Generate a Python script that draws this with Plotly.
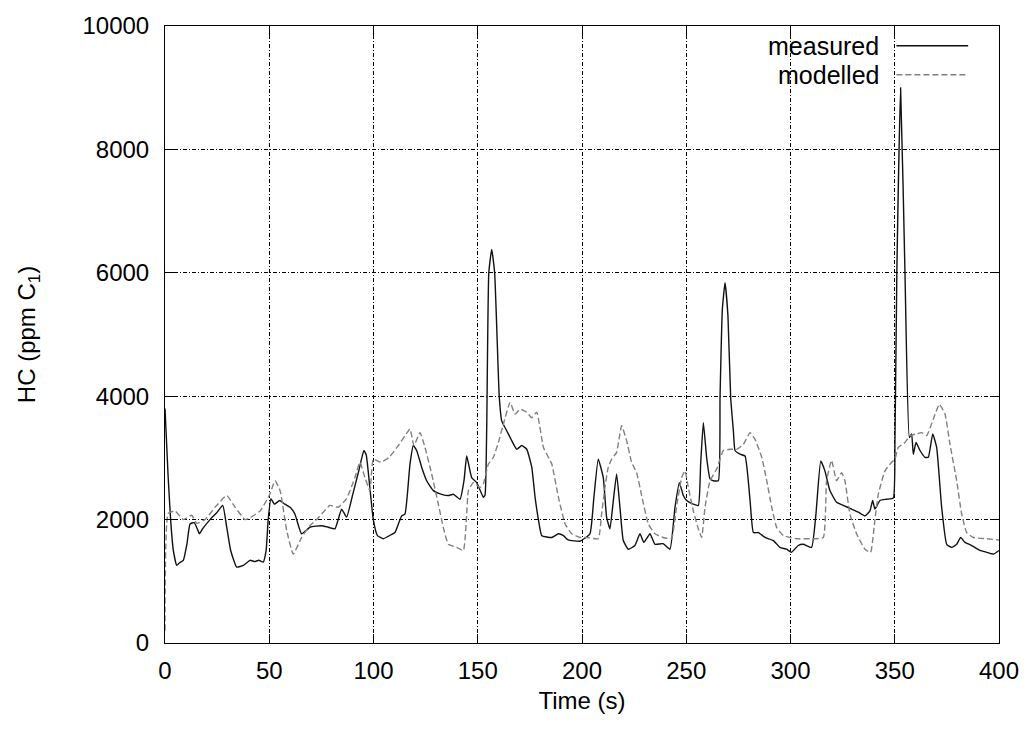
import plotly.graph_objects as go

# ---- data ----
t_measured = [0, 1.5, 2.7, 4, 5.6, 7, 8.8, 10.5, 12, 14, 15.5, 16.5, 18, 21.6, 24.8, 27.7,
              29.5, 31.5, 34.4, 37.6, 40.8, 43, 45, 47.1, 48.5, 49.5, 50.8, 52.5, 55, 57.5,
              60, 62.3, 65.5, 69.7, 75.1, 78, 81.5, 84.7, 87.1, 90, 93, 95.4, 96.5, 98.3,
              99.9, 101.9, 104.7, 108.7, 110.3, 113.5, 115.1, 117.5, 119.1, 120.7, 123.1,
              125.5, 128.7, 132.7, 135.9, 138.3, 141.5, 143.4, 144.7, 147.1, 149.5, 152.7,
              153.5, 154.3, 155.3, 156.7, 158.1, 160.3, 161.5, 163.9, 166.3, 168.7, 171.1,
              173.5, 175.9, 177.5, 179.1, 180.7, 185.5, 188.7, 191.1, 193.4, 199, 203.8,
              205.7, 207.8, 210.2, 211.8, 213.4, 215, 216.6, 218.2, 219.8, 222.2, 225.4,
              227.8, 229.7, 232.6, 235, 238.9, 242.2, 244.6, 246.7, 248.6, 250.2, 253.4,
              255.8, 256.9, 258.2, 259.8, 261.4, 263, 265.4, 266.2, 267.3, 268.6, 270,
              271.3, 272.6, 273.4, 275.8, 278.2, 280.6, 282.2, 284.6, 287.8, 291.8, 294.9,
              298.1, 300.5, 303.7, 306.1, 310.1, 312.2, 314.5, 316.5, 318.9, 322.1, 325.3,
              329.3, 332.5, 335.7, 338.1, 339.4, 340.5, 342.9, 346.1, 349.3, 350.1, 351,
              352.8, 354.9, 357, 358.1, 358.9, 360.2, 362.1, 364.5, 366.1, 368.2, 370.1,
              372.5, 374.9, 377.3, 379.7, 381.6, 383.7, 386.9, 390.9, 394.1, 397.3, 400]
hc_measured = [3800, 2700, 2000, 1500, 1260, 1300, 1340, 1600, 1930, 1950, 1850, 1770, 1850,
               2000, 2110, 2230, 1900, 1500, 1230, 1260, 1340, 1320, 1340, 1310, 1500, 2000,
               2340, 2250, 2310, 2250, 2200, 2090, 1770, 1880, 1900, 1880, 1850, 2170, 2040,
               2400, 2800, 3120, 3050, 2500, 2000, 1740, 1690, 1760, 1790, 2060, 2090, 2900,
               3200, 3120, 2850, 2630, 2470, 2410, 2390, 2410, 2330, 2630, 3030, 2680, 2600,
               2360, 2400, 3500, 6000, 6380, 6000, 4000, 3600, 3440, 3280, 3140, 3200, 3140,
               2850, 2360, 2000, 1740, 1710, 1770, 1740, 1670, 1650, 1770, 2360, 2980, 2680,
               2040, 1850, 2300, 2740, 2200, 1660, 1520, 1580, 1770, 1630, 1770, 1600, 1610,
               1520, 2200, 2600, 2390, 2310, 2250, 2230, 2900, 3570, 3000, 2660, 2630, 2630,
               3980, 5400, 5840, 5300, 3980, 3440, 3120, 3060, 3030, 2310, 1790, 1790, 1710,
               1660, 1550, 1520, 1470, 1580, 1600, 1550, 2090, 2950, 2790, 2470, 2280, 2230,
               2170, 2120, 2060, 2140, 2310, 2170, 2310, 2330, 2350, 3300, 6000, 9000, 6000,
               3330, 3390, 3060, 3250, 3120, 3010, 3010, 3390, 3170, 2200, 1600, 1550, 1600,
               1710, 1630, 1580, 1500, 1470, 1440, 1500]

t_modelled = [0, 1.5, 4.8, 8.8, 12.8, 15.2, 19.2, 24, 29.6, 33.6, 38.4, 40.8, 45.6, 50, 52.8,
              55.2, 58.4, 61.5, 65.5, 69.5, 72.7, 75.9, 79.1, 83.1, 87.1, 91.1, 93.5, 95.9,
              98.3, 99.9, 103.6, 107.5, 111.9, 115.1, 117.5, 119.4, 122.3, 124.7, 127.9,
              131.1, 133.5, 135.9, 139.9, 143.1, 144.7, 145.5, 147.9, 151.1, 152.7, 155.1,
              157.5, 159.9, 162.3, 165.5, 167.9, 170.3, 173.5, 175.9, 178.3, 181.5, 185.5,
              188.7, 191.9, 195.1, 199, 202.3, 207.8, 209.4, 211, 212.6, 214.2, 216.6, 219,
              221.4, 223.8, 226.2, 228.6, 231.8, 235, 238.9, 242.9, 245.3, 247.8, 249.4, 251,
              253.4, 255.8, 257.4, 259, 261.4, 264.6, 267.8, 271, 274.2, 277.4, 280.6, 283,
              286.2, 288.6, 291, 293.4, 296.6, 299.8, 302.9, 309.3, 315.7, 317.3, 319.7,
              322.1, 324.5, 326.1, 328.5, 331.7, 335.7, 338.4, 340.5, 342.1, 345.3, 348.5,
              350.1, 351.7, 354.9, 357.3, 360.5, 362.9, 365.3, 368.5, 371.4, 374.1, 376.5,
              379.7, 382.1, 384.5, 387.7, 394.1, 400]
hc_modelled = [200, 2100, 2140, 2000, 2070, 1940, 2000, 2200, 2390, 2200, 2000, 2030, 2140,
               2390, 2630, 2470, 1820, 1440, 1710, 1900, 2000, 2120, 2230, 2200, 2340, 2680,
               2930, 2680, 2470, 2980, 2930, 3010, 3200, 3360, 3470, 3200, 3410, 3170, 2740,
               2250, 1870, 1600, 1550, 1500, 2090, 2470, 2600, 2520, 2580, 2900, 3010, 3250,
               3550, 3900, 3710, 3790, 3740, 3650, 3740, 3170, 2900, 2360, 1930, 1770, 1710,
               1710, 1690, 2090, 2520, 2850, 2980, 3090, 3520, 3280, 2930, 2760, 2390, 1930,
               1770, 1710, 1690, 2200, 2680, 2790, 2520, 2140, 1850, 1710, 2200, 2630, 2820,
               3120, 3140, 3140, 3220, 3410, 3300, 3010, 2630, 2200, 1870, 1740, 1710, 1690,
               1690, 1710, 2630, 2960, 2630, 2760, 2630, 2090, 1770, 1520, 1470, 2000, 2410,
               2790, 2930, 2980, 3170, 3250, 3360, 3390, 3410, 3360, 3630, 3870, 3710, 3220,
               2630, 2090, 1790, 1710, 1690, 1670]

series_names = ["measured", "modelled"]
x_ticks = [0, 50, 100, 150, 200, 250, 300, 350, 400]
y_ticks = [0, 2000, 4000, 6000, 8000, 10000]

FONT = "Liberation Sans, Arial, Helvetica, sans-serif"
SOLID_COLOR = "#111111"
DASH_COLOR = "#808080"

fig = go.Figure()
fig.add_trace(go.Scatter(x=t_measured, y=hc_measured, mode="lines", name=series_names[0],
                         line=dict(color=SOLID_COLOR, width=1.4, shape="spline", smoothing=0.4),
                         showlegend=False))
fig.add_trace(go.Scatter(x=t_modelled, y=hc_modelled, mode="lines", name=series_names[1],
                         line=dict(color=DASH_COLOR, width=1.4, dash="6px,3px",
                                   shape="spline", smoothing=0.4),
                         showlegend=False))

grid_dash = "4px,2px,1px,2px"
axis_common = dict(showline=True, linecolor="black", linewidth=1, mirror="allticks",
                   ticks="inside", ticklen=9, tickcolor="black", tickwidth=1,
                   showgrid=True, gridcolor="black", gridwidth=1, griddash=grid_dash,
                   zeroline=False, tickfont=dict(family=FONT, size=24, color="black"))

fig.update_xaxes(range=[0, 400], tickvals=x_ticks, ticktext=[str(v) for v in x_ticks],
                 title=dict(text="Time (s)", font=dict(family=FONT, size=24, color="black"),
                            standoff=9),
                 ticklabelstandoff=6, **axis_common)
fig.update_yaxes(range=[0, 10000], tickvals=y_ticks, ticktext=[str(v) for v in y_ticks],
                 title=dict(text="HC (ppm C<sub>1</sub>)",
                            font=dict(family=FONT, size=24, color="black"), standoff=40),
                 ticklabelstandoff=10, **axis_common)

# gnuplot-style legend: text right-aligned, line sample to the right
legend_rows = [(series_names[0], 0.968, SOLID_COLOR, "solid"),
               (series_names[1], 0.921, DASH_COLOR, "6px,3px")]
for name, yy, col, dsh in legend_rows:
    fig.add_annotation(xref="paper", yref="paper", x=0.858, y=yy, text=name,
                       showarrow=False, xanchor="right", yanchor="middle",
                       font=dict(family=FONT, size=25, color="black"))
    fig.add_shape(type="line", xref="paper", yref="paper", x0=0.877, x1=0.963,
                  y0=yy, y1=yy, line=dict(color=col, width=1.4, dash=dsh))

fig.update_layout(width=1034, height=729, margin=dict(l=165, r=35, t=24, b=86),
                  plot_bgcolor="white", paper_bgcolor="white",
                  font=dict(family=FONT, size=24, color="black"))

fig.write_html("out.html")
